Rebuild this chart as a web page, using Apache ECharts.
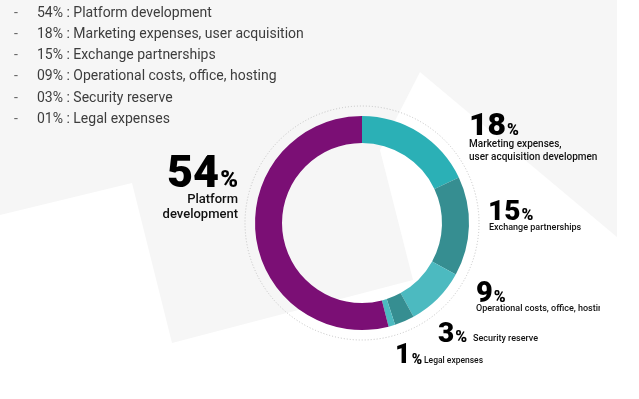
<!DOCTYPE html>
<html>
<head>
<meta charset="utf-8">
<script src="https://cdn.jsdelivr.net/npm/echarts@6/dist/echarts.min.js"></script>
<style>
  html, body { margin: 0; padding: 0; background: #fff; }
  #chart { width: 639px; height: 399px; }
</style>
</head>
<body>
<div id="chart"></div>
<script>
var names = [
  "Marketing expenses, user acquisition",
  "Exchange partnerships",
  "Operational costs, office, hosting",
  "Security reserve",
  "Legal expenses",
  "Platform development"
];
var values = [18, 15, 9, 3, 1, 54];
var colors = ["#2bb0b6", "#368e91", "#4cbac0", "#368e91", "#4cbac0", "#7b0f75"];

// top-left list, in the order it is written
var listPct = ["54%", "18%", "15%", "09%", "03%", "01%"];
var listNames = [
  "Platform development",
  "Marketing expenses, user acquisition",
  "Exchange partnerships",
  "Operational costs, office, hosting",
  "Security reserve",
  "Legal expenses"
];

// big labels next to the ring
var bigNames = [
  ["Marketing expenses,", "user acquisition development"],
  ["Exchange partnerships"],
  ["Operational costs, office, hosting"],
  ["Security reserve"],
  ["Legal expenses"],
  ["Platform", "development"]
];

var chart = echarts.init(document.getElementById("chart"));
var font = "Roboto, 'Noto Sans', sans-serif";

var graphic = [];
// light grey backdrop, white shapes are what is left uncovered
graphic.push({
  type: "polygon", z: -10, silent: true,
  shape: {
    points: [[0, 0], [617, 0], [617, 237], [420, 72], [380, 150], [413, 280],
             [172, 343], [132, 183], [0, 215]]
  },
  style: { fill: "#f6f6f6" }
});

// dotted outline ring
graphic.push({
  type: "circle", z: 1, silent: true,
  shape: { cx: 362, cy: 223, r: 117 },
  style: { fill: null, stroke: "#c4c4c4", lineWidth: 1, lineDash: [1, 2] }
});

// list at top left
listPct.forEach(function (p, i) {
  var y = 13 + i * 21.3;
  graphic.push({
    type: "text", silent: true, x: 14, y: y,
    style: { text: "-", font: "14px " + font, fill: "#666", verticalAlign: "middle" }
  });
  graphic.push({
    type: "text", silent: true, x: 37, y: y,
    style: { text: p + " : " + listNames[i], font: "14px " + font, fill: "#3d3d3d", verticalAlign: "middle" }
  });
});

// number: [x, top, size, pct size, align]
var numPos = [
  [469, 111, 32, 16, "left"],
  [488, 199, 28, 16, "left"],
  [476, 280, 29, 16, "left"],
  [438, 321, 28, 16, "left"],
  [395, 343, 27, 14, "left"],
  [238, 153, 45, 24, "right"]
];
// name lines: [x, first line centre y, line step, size, align]
var namePos = [
  [469, 144, 13, 10, "left"],
  [489, 228, 13, 9, "left"],
  [476, 309, 13, 9, "left"],
  [473, 339, 13, 9, "left"],
  [424, 361, 13, 8.5, "left"],
  [238, 200, 15, 13, "right"]
];
values.forEach(function (v, i) {
  var p = numPos[i];
  var fs = p[2], pfs = p[3];
  graphic.push({
    type: "text", silent: true, x: p[0], y: p[1],
    style: {
      text: "{v|" + v + "}{p|%}",
      align: p[4], verticalAlign: "top",
      rich: {
        v: { fontSize: fs, fontWeight: 900, fontFamily: font, color: "#0b0b0b", lineHeight: fs, verticalAlign: "bottom" },
        p: {
          fontSize: pfs, fontWeight: 900, fontFamily: font, color: "#0b0b0b", verticalAlign: "bottom",
          padding: [0, 0, Math.round(0.235 * (fs - pfs)), 1]
        }
      }
    }
  });
  var n = namePos[i];
  bigNames[i].forEach(function (s, k) {
    graphic.push({
      type: "text", silent: true, x: n[0], y: n[1] + k * n[2],
      style: {
        text: s, font: "500 " + n[3] + "px " + font, fill: "#111",
        align: n[4], verticalAlign: "middle",
        width: i === 0 ? 600 - n[0] : undefined,
        overflow: i === 0 ? "truncate" : undefined,
        ellipsis: ""
      }
    });
  });
});

// the source cuts the right edge of the labels off at x = 600
graphic.push({
  type: "rect", z: 10, silent: true,
  shape: { x: 600, y: 302, width: 17, height: 14 },
  style: { fill: "#ffffff" }
});

var option = {
  backgroundColor: "#ffffff",
  animation: false,
  graphic: graphic,
  series: [
    {
      type: "pie",
      center: [362, 223],
      radius: [80, 107],
      startAngle: 90,
      clockwise: true,
      label: { show: false },
      labelLine: { show: false },
      silent: true,
      data: values.map(function (v, i) {
        return { name: names[i], value: v, itemStyle: { color: colors[i] } };
      })
    }
  ]
};
chart.setOption(option);
window.addEventListener("resize", function () {
  chart.resize();
});
</script>
</body>
</html>
